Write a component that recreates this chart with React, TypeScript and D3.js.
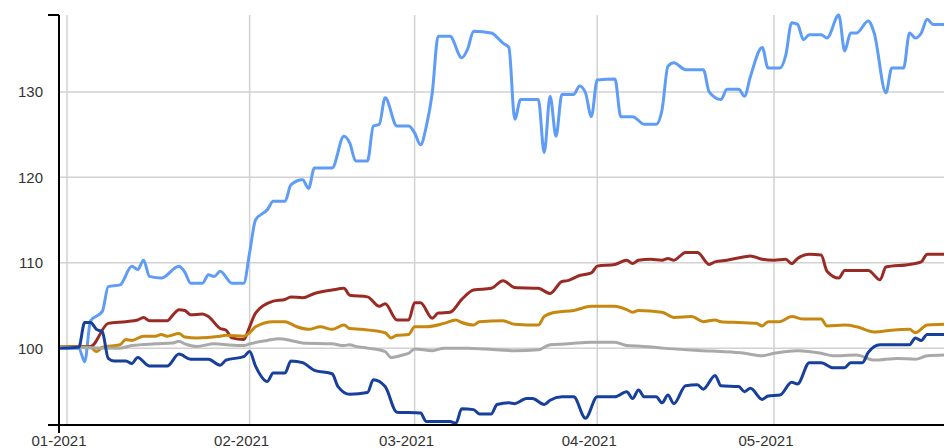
import * as d3 from 'd3'

// days counted from 2021-01-01, value indexed to 100
const lightBlue: [number, number][] = [
  [-1, 100], [2, 100], [3, 98.4], [4, 103.2], [6, 104.3], [7, 107.2], [9, 107.4],
  [11, 109.6], [12, 109.2], [13, 110.3], [14, 108.4], [16, 108.2], [19, 109.6],
  [20, 108.9], [21, 107.6], [23, 107.6], [24, 108.6], [25, 108.4], [26, 109.0],
  [28, 107.6], [30, 107.6], [31, 111.2], [32, 115.0], [34, 116.2], [35, 117.2],
  [37, 117.2], [38, 119.1], [40, 119.7], [41, 118.7], [42, 121.1], [45, 121.1],
  [47, 124.8], [48, 124.0], [49, 121.9], [51, 121.9], [52, 126.0], [53, 126.2],
  [54, 129.3], [56, 126.0], [58, 126.0], [59, 125.2], [60, 123.8], [61, 126.0],
  [62, 129.9], [63, 136.5], [65, 136.5], [67, 134.0], [68, 135.0], [69, 137.1],
  [72, 136.9], [74, 135.7], [75, 135.2], [76, 126.8], [77, 129.1], [80, 129.1],
  [81, 122.9], [82, 129.5], [83, 124.8], [84, 129.7], [86, 129.7], [87, 130.7],
  [88, 129.9], [89, 127.1], [90, 131.4], [93, 131.5], [94, 127.1], [96, 127.1],
  [98, 126.2], [100, 126.2], [101, 127.9], [102, 133.0], [103, 133.4], [105, 132.6],
  [108, 132.6], [109, 130.0], [111, 129.1], [112, 130.3], [114, 130.3], [115, 129.5],
  [116, 131.8], [118, 135.2], [119, 132.8], [121, 132.8], [122, 134.3], [123, 138.1],
  [124, 137.9], [125, 136.1], [126, 136.7], [128, 136.7], [129, 136.3], [131, 139.0],
  [132, 134.8], [133, 136.9], [134, 136.9], [136, 138.3], [137, 136.9], [139, 129.9],
  [140, 132.8], [142, 132.8], [143, 136.9], [144, 136.3], [145, 136.9], [146, 138.5],
  [147, 137.9], [150, 137.9]
]

const darkRed: [number, number][] = [
  [-1, 100.2], [4, 100.2], [7, 102.9], [10, 103.1], [12, 103.3], [13, 103.6],
  [14, 103.2], [17, 103.2], [18, 103.9], [19, 104.5], [20, 104.4], [21, 103.9],
  [23, 104.0], [24, 103.7], [26, 102.3], [27, 102.1], [28, 101.2], [30, 101.0],
  [31, 102.5], [32, 104.1], [35, 105.5], [37, 105.7], [38, 106.0], [40, 105.9],
  [42, 106.4], [45, 106.8], [47, 107.0], [48, 106.2], [51, 106.0], [53, 104.9],
  [54, 105.2], [56, 103.3], [58, 103.3], [59, 105.3], [60, 105.3], [62, 103.5],
  [63, 104.1], [65, 104.2], [67, 105.7], [69, 106.8], [72, 107.0], [74, 107.9],
  [76, 107.1], [80, 107.0], [82, 106.4], [84, 107.8], [85, 107.9], [87, 108.5],
  [89, 108.8], [90, 109.6], [93, 109.8], [95, 110.3], [96, 109.9], [97, 110.3],
  [99, 110.4], [101, 110.3], [102, 110.5], [103, 110.3], [105, 111.2], [107, 111.2],
  [109, 109.8], [110, 110.1], [112, 110.3], [115, 110.7], [116, 110.8], [118, 110.4],
  [120, 110.3], [122, 110.4], [123, 109.9], [124, 110.5], [126, 111.0], [128, 110.9],
  [129, 109.0], [131, 108.2], [132, 109.1], [136, 109.1], [138, 108.0], [139, 109.5],
  [143, 109.8], [145, 110.1], [146, 111.0], [150, 111.0]
]

const gold: [number, number][] = [
  [-1, 100.2], [4, 100.1], [5, 99.6], [6, 100.1], [9, 100.4], [10, 101.0], [11, 100.9],
  [13, 101.4], [15, 101.4], [16, 101.6], [17, 101.4], [19, 101.7], [20, 101.3],
  [22, 101.2], [26, 101.4], [27, 101.5], [30, 101.4], [31, 101.8], [32, 102.5],
  [35, 103.1], [37, 103.1], [39, 102.5], [41, 102.2], [43, 102.5], [45, 102.2],
  [47, 102.7], [48, 102.3], [50, 102.2], [54, 101.8], [55, 101.2], [56, 101.5],
  [58, 101.6], [59, 102.5], [61, 102.5], [64, 102.9], [66, 103.3], [67, 103.0],
  [69, 102.7], [70, 103.1], [74, 103.2], [76, 102.8], [80, 102.7], [81, 103.7],
  [83, 104.2], [86, 104.4], [89, 104.9], [93, 104.9], [95, 104.5], [96, 104.2],
  [97, 104.4], [101, 104.2], [103, 103.6], [106, 103.7], [108, 103.1], [110, 103.3],
  [111, 103.1], [114, 103.0], [117, 102.9], [118, 102.6], [119, 103.1], [121, 103.1],
  [123, 103.7], [125, 103.4], [128, 103.4], [129, 102.6], [132, 102.7], [134, 102.5],
  [137, 101.9], [140, 102.1], [143, 102.2], [144, 101.8], [146, 102.7], [150, 102.8]
]

const gray: [number, number][] = [
  [-1, 100.1], [9, 100.0], [11, 100.3], [15, 100.5], [18, 100.6], [19, 100.8],
  [20, 100.5], [22, 100.2], [25, 100.5], [27, 100.4], [30, 100.3], [31, 100.5],
  [34, 100.9], [36, 101.1], [38, 100.9], [40, 100.6], [45, 100.5], [47, 100.3],
  [48, 100.4], [49, 100.2], [51, 100.0], [54, 99.6], [55, 98.9], [57, 99.2],
  [58, 99.4], [59, 99.9], [62, 99.7], [64, 100.0], [68, 100.0], [71, 99.9],
  [76, 99.7], [80, 99.8], [82, 100.4], [85, 100.5], [89, 100.7], [93, 100.7],
  [95, 100.3], [98, 100.2], [101, 100.0], [108, 99.7], [111, 99.6], [115, 99.4],
  [118, 99.1], [120, 99.4], [124, 99.7], [128, 99.4], [130, 99.1], [134, 99.2],
  [137, 98.6], [141, 98.8], [144, 98.7], [146, 99.1], [150, 99.2]
]

const darkBlue: [number, number][] = [
  [-1, 100.0], [2, 100.1], [3, 103.0], [4, 103.0], [5, 102.2], [6, 101.9], [7, 98.8],
  [8, 98.5], [10, 98.5], [11, 98.2], [12, 98.9], [14, 97.9], [17, 97.9], [19, 99.3],
  [21, 98.7], [24, 98.7], [26, 98.0], [27, 98.6], [30, 99.0], [31, 99.6], [32, 97.9],
  [34, 96.1], [35, 97.1], [37, 97.1], [38, 98.5], [40, 98.3], [42, 97.4], [45, 97.0],
  [46, 95.5], [48, 94.6], [51, 94.8], [52, 96.3], [54, 95.5], [56, 92.5], [60, 92.4],
  [61, 91.4], [65, 91.4], [66, 91.2], [67, 92.9], [69, 92.8], [70, 92.3], [72, 92.3],
  [73, 93.4], [75, 93.6], [76, 93.5], [78, 94.1], [79, 94.1], [81, 93.4], [82, 93.9],
  [84, 94.3], [86, 94.3], [88, 91.8], [90, 94.3], [93, 94.3], [95, 94.9], [96, 94.1],
  [97, 95.1], [98, 94.3], [100, 94.3], [101, 93.6], [102, 94.5], [103, 93.5],
  [105, 95.6], [107, 95.7], [108, 95.2], [110, 96.8], [111, 95.6], [114, 95.5],
  [115, 94.9], [116, 95.3], [118, 94.0], [119, 94.4], [121, 94.5], [123, 96.0],
  [124, 95.8], [126, 98.3], [128, 98.3], [130, 97.7], [132, 97.7], [133, 98.3],
  [135, 98.3], [136, 99.5], [138, 100.4], [143, 100.4], [144, 101.2], [145, 100.9],
  [146, 101.6], [150, 101.6]
]

const series = [
  { data: lightBlue, color: '#5e9cf6' },
  { data: darkRed, color: '#9a2b24' },
  { data: gold, color: '#c6880f' },
  { data: gray, color: '#a9a9a9' },
  { data: darkBlue, color: '#173f9c' }
]

const yTicks = [100, 110, 120, 130]
const monthTicks = ['2021-01-01', '2021-02-01', '2021-03-01', '2021-04-01', '2021-05-01']

const width = 944
const height = 448
const axisX = 59
const top = 15
const bottom = 425

const start = new Date(2021, 0, 1)
const toDate = (d: number) => d3.timeDay.offset(start, d)

export default function App() {
  const x = d3
    .scaleTime()
    .domain([new Date(2021, 0, 1), new Date(2021, 4, 1)])
    .range([67, 774])
  const y = d3.scaleLinear([91, 139], [bottom, top])
  const line = d3
    .line<[number, number]>()
    .x((d) => x(toDate(d[0])))
    .y((d) => y(d[1]))
    .curve(d3.curveMonotoneX)
  const fmt = d3.timeFormat('%m-%Y')
  const parse = d3.timeParse('%Y-%m-%d')

  return (
    <div style={{ position: 'absolute', left: 0, top: 0 }}>
      <svg width={width} height={height} style={{ display: 'block' }}>
        <defs>
          <clipPath id="plot">
            <rect x={axisX} y={0} width={width - axisX} height={bottom + 2} />
          </clipPath>
        </defs>
        {yTicks.map((t) => (
          <line
            key={'h' + t}
            x1={axisX}
            x2={width}
            y1={y(t)}
            y2={y(t)}
            stroke="#d2d2d2"
            strokeWidth={1.5}
          />
        ))}
        {monthTicks.map((m) => {
          const gx = x(parse(m)!)
          return (
            <line
              key={'v' + m}
              x1={gx}
              x2={gx}
              y1={top}
              y2={bottom}
              stroke="#d2d2d2"
              strokeWidth={1.5}
            />
          )
        })}
        <g clipPath="url(#plot)">
          {series.map((s, i) => (
            <path
              key={i}
              d={line(s.data) || undefined}
              fill="none"
              stroke={s.color}
              strokeWidth={3}
              strokeLinejoin="round"
              strokeLinecap="round"
            />
          ))}
        </g>
        <line x1={axisX} x2={axisX} y1={top} y2={433} stroke="#000" strokeWidth={2} />
        <line x1={48} x2={axisX} y1={top} y2={top} stroke="#000" strokeWidth={2} />
        <line x1={48} x2={width} y1={bottom} y2={bottom} stroke="#000" strokeWidth={2} />
        {yTicks.map((t) => (
          <text
            key={'yl' + t}
            x={43}
            y={y(t)}
            dy="0.36em"
            textAnchor="end"
            fontFamily="Arial, 'Liberation Sans', sans-serif"
            fontSize={15}
            fill="#333"
          >
            {t}
          </text>
        ))}
        {monthTicks.map((m) => {
          const d = parse(m)!
          return (
            <text
              key={'xl' + m}
              x={x(d) - 8}
              y={446}
              textAnchor="middle"
              fontFamily="Arial, 'Liberation Sans', sans-serif"
              fontSize={15}
              fill="#333"
            >
              {fmt(d)}
            </text>
          )
        })}
      </svg>
    </div>
  )
}
